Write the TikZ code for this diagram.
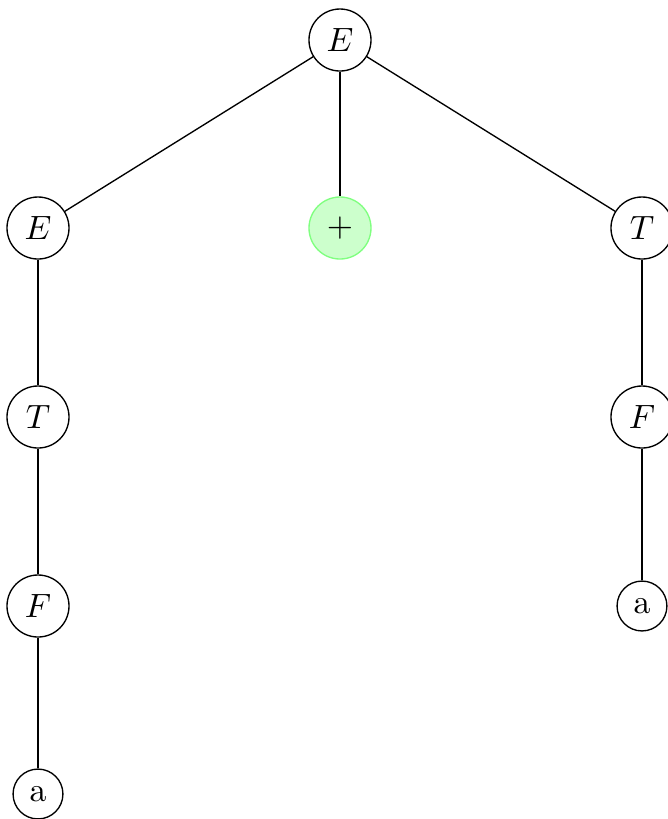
\documentclass[tikz,border=0pt]{standalone}
\begin{document}
\begin{tikzpicture}[x=0.2967pt,y=-0.2967pt,
  big/.style={circle,draw,minimum size=18.4pt,inner sep=0pt},
  small/.style={circle,draw,minimum size=14.8pt,inner sep=0pt},
  hl/.style={circle,draw=green!50,fill=green!20,minimum size=18.4pt,inner sep=0pt}]
\useasboundingbox (0,0) rectangle (668,819);
\node[big] (e0) at (340,40) {$E$};
\node[big] (e1) at (38,228) {$E$};
\node[hl] (p) at (340,228) {$+$};
\node[big] (t1) at (642,228) {$T$};
\node[big] (t2) at (38,417) {$T$};
\node[big] (f1) at (38,606) {$F$};
\node[small] (a1) at (38,794) {a};
\node[big] (f2) at (642,417) {$F$};
\node[small] (a2) at (642,606) {a};
\draw (e0) -- (e1);
\draw (e0) -- (p);
\draw (e0) -- (t1);
\draw (e1) -- (t2);
\draw (t2) -- (f1);
\draw (f1) -- (a1);
\draw (t1) -- (f2);
\draw (f2) -- (a2);
\end{tikzpicture}
\end{document}
